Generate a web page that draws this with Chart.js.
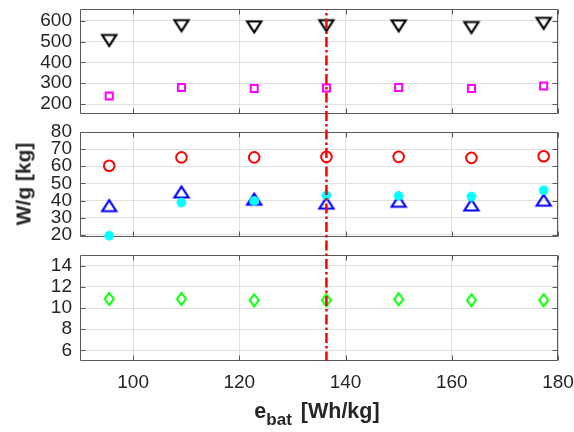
<!DOCTYPE html>
<html>
<head>
<meta charset="utf-8">
<script src="https://cdn.jsdelivr.net/npm/chart.js@4"></script>
<style>
  html, body { margin: 0; padding: 0; background: #fff; }
  #fig { position: relative; width: 574px; height: 432px; overflow: hidden; background: #fff;
         font-family: 'Liberation Sans', Arial, sans-serif; color: #262626; }
  #fig canvas { position: absolute; left: 0; }
  .ylab { position: absolute; left: 23px; top: 184px; transform: translate(-50%, -50%) rotate(-90deg);
          font-weight: bold; font-size: 21px; line-height: 21px; white-space: nowrap; }
  .xlab { position: absolute; left: 317px; top: 401px; transform: translateX(-50%);
          font-weight: bold; font-size: 21.5px; line-height: 21px; white-space: nowrap; }
  .xlab .sub { font-size: 17px; position: relative; top: 7px; margin-right: 3px; }
</style>
</head>
<body>
<div id="fig">
  <canvas id="pTop" width="574" height="123" style="top:0px"></canvas>
  <canvas id="pMid" width="574" height="123" style="top:123px"></canvas>
  <canvas id="pBot" width="574" height="186" style="top:246px"></canvas>
  <div class="ylab">W/g [kg]</div>
  <div class="xlab">e<span class="sub">bat</span> [Wh/kg]</div>
</div>
<script>
// Battery specific energy sweep (Wh/kg) and the reference design value
const EBAT = [95.5, 109.1, 122.8, 136.4, 150.0, 163.7, 177.3];
const EBAT_REF = 136.4;

// Weight groups [kg]
const W_TRI_DOWN = [505, 576, 570, 576, 575, 567, 587];
const W_SQUARE   = [238, 279, 274, 277, 279, 274, 286];
const W_CIRCLE   = [60.3, 65.2, 65.2, 65.5, 65.5, 64.9, 65.8];
const W_TRI_UP   = [37.0, 45.0, 40.8, 38.5, 39.6, 37.4, 40.2];
const W_STAR     = [19.5, 38.8, 39.8, 43.0, 42.7, 42.3, 46.0];
const W_DIAMOND  = [10.86, 10.86, 10.73, 10.73, 10.83, 10.73, 10.73];

// Axis ticks
const X_TICKS     = [100, 120, 140, 160, 180];
const Y_TICKS_TOP = [200, 300, 400, 500, 600];
const Y_TICKS_MID = [20, 30, 40, 50, 60, 70, 80];
const Y_TICKS_BOT = [6, 8, 10, 12, 14];

const TXT = '#262626';
const AXIS = '#5a5a5a';
const GRID = '#e0e0e0';
const FONT = { family: "'Liberation Sans', Arial, sans-serif", size: 19 };

// Hollow outline markers drawn into small canvases, centred on the point
function outlineMarker(w, h, color, lw, path) {
  const c = document.createElement('canvas');
  c.width = 26; c.height = 26;
  const g = c.getContext('2d');
  g.strokeStyle = color; g.lineWidth = lw; g.lineJoin = 'miter';
  g.beginPath();
  path(g, 13 - w / 2, 13 - h / 2, w, h);
  g.closePath();
  g.stroke();
  return c;
}
const triDown = outlineMarker(14, 11, '#000000', 2.2, (g, x, y, w, h) => {
  g.moveTo(x, y); g.lineTo(x + w, y); g.lineTo(x + w / 2, y + h);
});
const triUp = outlineMarker(14, 11, '#0000ff', 2.2, (g, x, y, w, h) => {
  g.moveTo(x + w / 2, y); g.lineTo(x + w, y + h); g.lineTo(x, y + h);
});
const diamond = outlineMarker(9, 12, '#00ff00', 2, (g, x, y, w, h) => {
  g.moveTo(x + w / 2, y); g.lineTo(x + w, y + h / 2); g.lineTo(x + w / 2, y + h); g.lineTo(x, y + h / 2);
});

function points(ys) { return EBAT.map((x, i) => ({ x, y: ys[i] })); }

// Full box around the plot area with inward tick marks on all four sides
const framePlugin = {
  id: 'frame',
  beforeDatasetsDraw(chart) {
    const { ctx, chartArea: a, scales: { x, y } } = chart;
    const L = Math.round(a.left) + 0.5, R = Math.round(a.right) - 0.5;
    const T = Math.round(a.top) + 0.5, B = Math.round(a.bottom) - 0.5;
    ctx.save();
    ctx.strokeStyle = AXIS; ctx.lineWidth = 1;
    ctx.beginPath();
    ctx.rect(L, T, R - L, B - T);
    const len = 5;
    x.ticks.forEach(t => {
      const px = Math.round(x.getPixelForValue(t.value)) + 0.5;
      ctx.moveTo(px, B); ctx.lineTo(px, B - len);
      ctx.moveTo(px, T); ctx.lineTo(px, T + len);
    });
    y.ticks.forEach(t => {
      const py = Math.round(y.getPixelForValue(t.value)) + 0.5;
      ctx.moveTo(L, py); ctx.lineTo(L + len, py);
      ctx.moveTo(R, py); ctx.lineTo(R - len, py);
    });
    ctx.stroke();
    ctx.restore();
  }
};

// Dash-dot vertical marker at the reference specific energy, running through all panels
const refLinePlugin = {
  id: 'refLine',
  afterDatasetsDraw(chart, args, opts) {
    const { ctx, chartArea: a, scales: { x } } = chart;
    const px = x.getPixelForValue(EBAT_REF);
    const y0 = opts.fromTop ? a.top : 0;
    const y1 = opts.toBottom ? a.bottom : chart.height;
    ctx.save();
    ctx.strokeStyle = '#ff0000';
    ctx.lineWidth = 2.5;
    ctx.setLineDash([10, 3, 2.5, 3]);
    ctx.lineDashOffset = chart.canvas.offsetTop + y0;
    ctx.beginPath();
    ctx.moveTo(px, y0); ctx.lineTo(px, y1);
    ctx.stroke();
    ctx.restore();
  }
};

function panel(id, p) {
  return new Chart(document.getElementById(id), {
    type: 'scatter',
    data: { datasets: p.datasets.map(d => Object.assign({ clip: false }, d)) },
    options: {
      responsive: false, animation: false, devicePixelRatio: 1,
      layout: { padding: p.padding },
      plugins: {
        legend: { display: false }, tooltip: { enabled: false },
        refLine: { fromTop: p.fromTop, toBottom: p.toBottom }
      },
      scales: {
        x: {
          type: 'linear', min: 90, max: 180,
          afterBuildTicks: s => { s.ticks = X_TICKS.map(v => ({ value: v })); },
          afterFit: s => { s.height = p.xHeight; s.paddingLeft = 0; s.paddingRight = 0; },
          grid: { color: GRID, drawTicks: false },
          border: { display: false },
          ticks: { display: p.xLabels, color: TXT, font: FONT, padding: 10, maxRotation: 0, autoSkip: false }
        },
        y: {
          type: 'linear', min: p.yMin, max: p.yMax,
          afterBuildTicks: s => { s.ticks = p.yTicks.map(v => ({ value: v })); },
          afterFit: s => { s.width = 80; s.paddingTop = 0; s.paddingBottom = 0; },
          grid: { color: GRID, drawTicks: false },
          border: { display: false },
          ticks: { color: TXT, font: FONT, padding: 8, autoSkip: false }
        }
      }
    },
    plugins: [framePlugin, refLinePlugin]
  });
}

const hollow = 'rgba(0,0,0,0)';

panel('pTop', {
  padding: { left: 0, right: 16, top: 8, bottom: 9 },
  xHeight: 0, xLabels: false, fromTop: true, toBottom: false,
  yMin: 152, yMax: 656, yTicks: Y_TICKS_TOP,
  datasets: [
    { data: points(W_TRI_DOWN), pointStyle: triDown, pointRadius: 8 },
    { data: points(W_SQUARE), pointStyle: 'rect', pointRadius: 5, borderColor: '#ff00ff', backgroundColor: hollow, borderWidth: 2 }
  ]
});

panel('pMid', {
  padding: { left: 0, right: 16, top: 9, bottom: 9 },
  xHeight: 0, xLabels: false, fromTop: false, toBottom: false,
  yMin: 18.7, yMax: 80, yTicks: Y_TICKS_MID,
  datasets: [
    { data: points(W_CIRCLE), pointStyle: 'circle', pointRadius: 5.3, borderColor: '#ff0000', backgroundColor: hollow, borderWidth: 2 },
    { data: points(W_STAR), pointStyle: 'star', pointRadius: 4.8, borderColor: '#00ffff', backgroundColor: '#00ffff', borderWidth: 3 },
    { data: points(W_TRI_UP), pointStyle: triUp, pointRadius: 8 }
  ]
});

panel('pBot', {
  padding: { left: 0, right: 16, top: 9, bottom: 0 },
  xHeight: 71, xLabels: true, fromTop: false, toBottom: true,
  yMin: 5, yMax: 15, yTicks: Y_TICKS_BOT,
  datasets: [
    { data: points(W_DIAMOND), pointStyle: diamond, pointRadius: 8 }
  ]
});
</script>
</body>
</html>
